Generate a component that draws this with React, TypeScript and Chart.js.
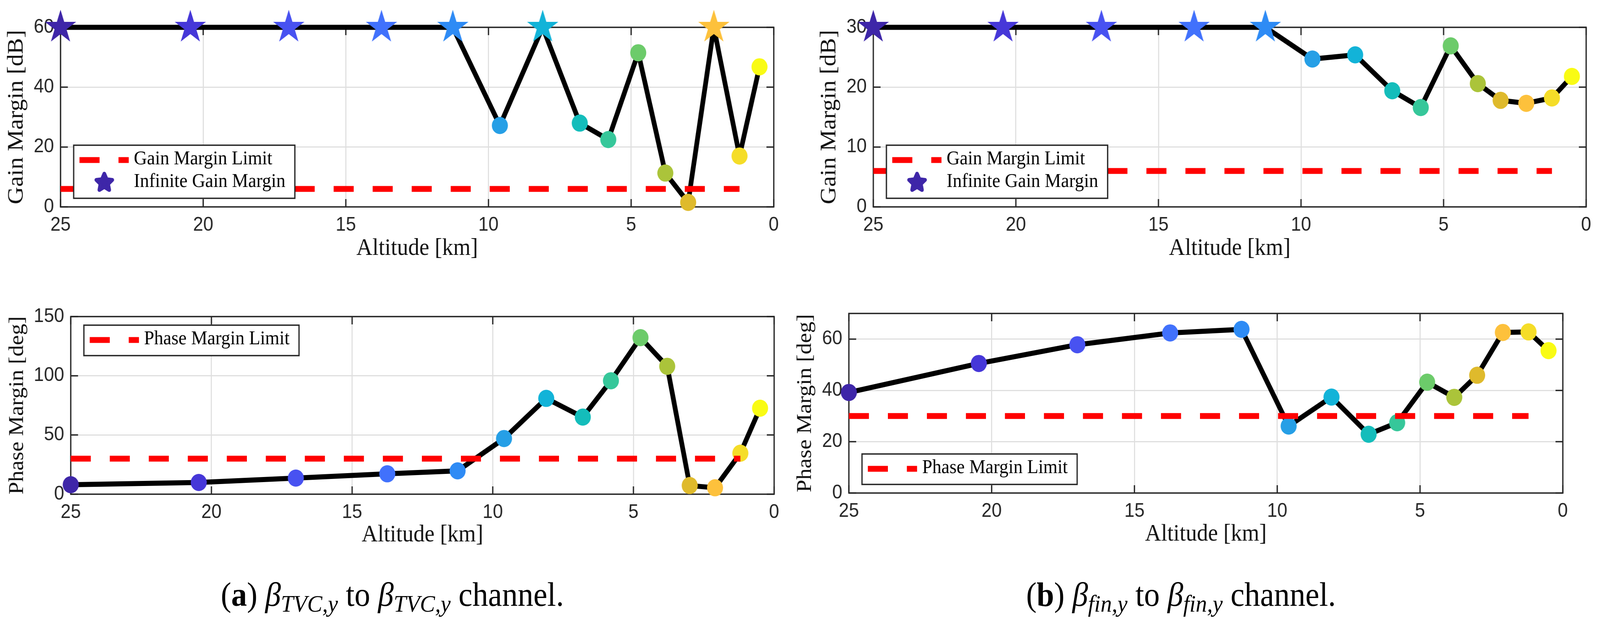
import React, { useEffect, useRef } from 'react';
import { Chart, registerables, Plugin } from 'chart.js';

Chart.register(...registerables);

// altitude of each design point, km
const altitude = [25, 20.45, 17, 13.75, 11.25, 9.6, 8.1, 6.8, 5.8, 4.75, 3.8, 3.0, 2.1, 1.2, 0.5];

// Infinity = infinite gain margin (drawn as a star on the top of the axis)
const gainTvc = [Infinity, Infinity, Infinity, Infinity, Infinity, 27.2, Infinity, 28.0, 22.5, 51.5, 11.3, 1.5, Infinity, 17.0, 46.8];
const gainFin = [Infinity, Infinity, Infinity, Infinity, Infinity, 24.7, 25.4, 19.4, 16.6, 26.9, 20.6, 17.8, 17.3, 18.2, 21.8];
const phaseTvc = [8.0, 9.9, 13.6, 17.2, 19.7, 47.0, 80.9, 65.1, 95.8, 132.2, 108.0, 7.3, 5.4, 34.6, 72.6];
const phaseFin = [39.2, 50.5, 57.8, 62.4, 63.8, 26.1, 37.4, 22.9, 27.4, 43.2, 37.3, 45.9, 62.6, 62.8, 55.5];

const gainLimit = 6;
const phaseLimit = 30;

const altitudeTicks = [0, 5, 10, 15, 20, 25];
const gainTvcTicks = [0, 20, 40, 60];
const gainFinTicks = [0, 10, 20, 30];
const phaseTvcTicks = [0, 50, 100, 150];
const phaseFinTicks = [0, 20, 40, 60];

// parula-like colours, one per altitude
const markerColors = [
  '#3e26a8', '#4637d8', '#4852f1', '#4171fc', '#2e8bf5', '#269fe6', '#12b3d8', '#14bdbb',
  '#36c79a', '#6ccb6a', '#abc43a', '#dfba2c', '#fdc13c', '#f5dd28', '#f9fb14',
];

const gainLegend = [
  { label: 'Gain Margin Limit', kind: 'dash' },
  { label: 'Infinite Gain Margin', kind: 'star' },
];
const phaseLegend = [{ label: 'Phase Margin Limit', kind: 'dash' }];

const AXIS = '#262626';
const PAGE_W = 4388;
const PAGE_H = 1596;

function starPath(g: CanvasRenderingContext2D, cx: number, cy: number, R: number, r: number) {
  g.beginPath();
  for (let i = 0; i < 10; i++) {
    const a = -Math.PI / 2 + (i * Math.PI) / 5;
    const rad = i % 2 ? r : R;
    const x = cx + rad * Math.cos(a);
    const y = cy + rad * Math.sin(a);
    if (i === 0) g.moveTo(x, y);
    else g.lineTo(x, y);
  }
  g.closePath();
}

function makeStar(color: string) {
  const R = 45;
  const c = document.createElement('canvas');
  c.width = 94;
  c.height = 94;
  const g = c.getContext('2d')!;
  starPath(g, 47, 47, R, R * 0.382);
  g.fillStyle = color;
  g.fill();
  return c;
}

interface PanelProps {
  values: number[];
  cap: number;
  yTicks: number[];
  limit: number;
  yTitle: string;
  legend: { label: string; kind: string }[];
  corner: 'nw' | 'sw';
  left: number;
  top: number;
  width: number;
  height: number;
  padTop: number;
  padRight: number;
  yWidth: number;
  xHeight: number;
  yTitleSize: number;
  yTitlePad: number;
  xTitlePad: number;
}

const MarginPanel: React.FC<PanelProps> = (p) => {
  const ref = useRef<HTMLCanvasElement | null>(null);

  useEffect(() => {
    if (!ref.current) return;
    const stars = markerColors.map(makeStar);
    const plotted = p.values.map((v) => (Number.isFinite(v) ? v : p.cap));
    const pts = altitude.map((a, i) => ({ x: a, y: plotted[i] }));
    const limitPts = [
      { x: altitude[0], y: p.limit },
      { x: altitude[altitude.length - 2], y: p.limit },
    ];

    const frame: Plugin = {
      id: 'frame',
      beforeDatasetsDraw(chart) {
        const { ctx, chartArea: a } = chart;
        const sx = chart.scales.x;
        const sy = chart.scales.y;
        ctx.save();
        ctx.strokeStyle = AXIS;
        ctx.lineWidth = 3.5;
        ctx.beginPath();
        sx.ticks.forEach((t) => {
          const px = sx.getPixelForValue(t.value);
          ctx.moveTo(px, a.bottom);
          ctx.lineTo(px, a.bottom - 20);
          ctx.moveTo(px, a.top);
          ctx.lineTo(px, a.top + 20);
        });
        sy.ticks.forEach((t) => {
          const py = sy.getPixelForValue(t.value);
          ctx.moveTo(a.left, py);
          ctx.lineTo(a.left + 20, py);
          ctx.moveTo(a.right, py);
          ctx.lineTo(a.right - 20, py);
        });
        ctx.stroke();
        ctx.strokeRect(a.left, a.top, a.right - a.left, a.bottom - a.top);
        ctx.restore();
      },
    };

    const legend: Plugin = {
      id: 'boxLegend',
      afterDatasetsDraw(chart) {
        const { ctx, chartArea: a } = chart;
        ctx.save();
        ctx.font = '50px "Liberation Serif"';
        const textW = Math.max(...p.legend.map((it) => ctx.measureText(it.label).width));
        const w = 165 + textW + 26;
        const h = 20 + p.legend.length * 58;
        const x = a.left + 36;
        const y = p.corner === 'nw' ? a.top + 22 : a.bottom - 22 - h;
        ctx.fillStyle = '#fff';
        ctx.fillRect(x, y, w, h);
        ctx.strokeStyle = AXIS;
        ctx.lineWidth = 3.5;
        ctx.strokeRect(x, y, w, h);
        p.legend.forEach((it, i) => {
          const cy = y + 38 + i * 58;
          if (it.kind === 'dash') {
            ctx.save();
            ctx.strokeStyle = '#ff0000';
            ctx.lineWidth = 15;
            ctx.setLineDash([55, 52]);
            ctx.beginPath();
            ctx.moveTo(x + 16, cy);
            ctx.lineTo(x + 151, cy);
            ctx.stroke();
            ctx.restore();
          } else {
            ctx.save();
            starPath(ctx, x + 84, cy, 23, 11);
            ctx.fillStyle = markerColors[0];
            ctx.strokeStyle = markerColors[0];
            ctx.lineWidth = 10;
            ctx.lineJoin = 'round';
            ctx.fill();
            ctx.stroke();
            ctx.restore();
          }
          ctx.fillStyle = '#000';
          ctx.textBaseline = 'middle';
          ctx.textAlign = 'left';
          ctx.fillText(it.label, x + 165, cy - 2);
        });
        ctx.restore();
      },
    };

    const tickFont = { family: 'Liberation Sans', size: 50 };
    const grid = { color: '#dfdfdf', lineWidth: 3, drawTicks: false };

    const chart = new Chart(ref.current, {
      type: 'line',
      data: {
        datasets: [
          {
            data: limitPts,
            borderColor: '#ff0000',
            borderWidth: 15,
            borderDash: [55, 52],
            pointRadius: 0,
            order: 1,
            clip: false,
          },
          {
            data: pts,
            showLine: false,
            pointRadius: 22,
            pointBorderWidth: 0,
            pointBackgroundColor: markerColors,
            pointStyle: (c: any) => (Number.isFinite(p.values[c.dataIndex]) ? 'circle' : stars[c.dataIndex]),
            order: 2,
            clip: false,
          },
          {
            data: pts,
            borderColor: '#000',
            borderWidth: 13,
            borderJoinStyle: 'round',
            pointRadius: 0,
            order: 3,
            clip: false,
          },
        ],
      },
      options: {
        responsive: false,
        animation: false,
        events: [],
        layout: { padding: { top: p.padTop, right: p.padRight, left: 0, bottom: 0 } },
        plugins: { legend: { display: false }, tooltip: { enabled: false } },
        scales: {
          x: {
            type: 'linear',
            reverse: true,
            min: 0,
            max: 25,
            afterBuildTicks: (s) => {
              s.ticks = altitudeTicks.map((value) => ({ value }));
            },
            afterFit: (s) => {
              s.height = p.xHeight;
            },
            grid,
            border: { display: false },
            ticks: { font: tickFont, color: AXIS, padding: 17, maxRotation: 0, autoSkip: false },
            title: {
              display: true,
              text: 'Altitude [km]',
              color: '#111',
              font: { family: 'Liberation Serif', size: 61 },
              padding: { top: 0, bottom: p.xTitlePad },
            },
          },
          y: {
            type: 'linear',
            min: 0,
            max: p.cap,
            afterBuildTicks: (s) => {
              s.ticks = p.yTicks.map((value) => ({ value }));
            },
            afterFit: (s) => {
              s.width = p.yWidth;
            },
            grid,
            border: { display: false },
            ticks: { font: tickFont, color: AXIS, padding: 18, autoSkip: false },
            title: {
              display: true,
              text: p.yTitle,
              color: '#111',
              font: { family: 'Liberation Serif', size: p.yTitleSize },
              padding: { top: p.yTitlePad, bottom: 0 },
            },
          },
        },
      },
      plugins: [frame, legend],
    });

    return () => chart.destroy();
  }, [p]);

  return (
    <canvas
      ref={ref}
      width={p.width}
      height={p.height}
      style={{ position: 'absolute', left: p.left, top: p.top, width: p.width, height: p.height }}
    />
  );
};

const Caption: React.FC<{ center: number; tag: string; sub: string }> = ({ center, tag, sub }) => (
  <div
    style={{
      position: 'absolute',
      left: center - 700,
      top: 1480,
      width: 1400,
      textAlign: 'center',
      fontFamily: '"Liberation Serif"',
      fontSize: 86,
      lineHeight: '86px',
      color: '#000',
      whiteSpace: 'nowrap',
    }}
  >
    (<b>{tag}</b>) <i>β</i>
    <i style={{ fontSize: '0.72em', verticalAlign: '-0.25em' }}>{sub}</i> to <i>β</i>
    <i style={{ fontSize: '0.72em', verticalAlign: '-0.25em' }}>{sub}</i> channel.
  </div>
);

const tl: PanelProps = {
  values: gainTvc, cap: 60, yTicks: gainTvcTicks, limit: gainLimit, yTitle: 'Gain Margin [dB]',
  legend: gainLegend, corner: 'sw',
  left: 0, top: 0, width: 2200, height: 700, padTop: 70, padRight: 78, yWidth: 166, xHeight: 170,
  yTitleSize: 62, yTitlePad: 9, xTitlePad: 26,
};
const tr: PanelProps = {
  values: gainFin, cap: 30, yTicks: gainFinTicks, limit: gainLimit, yTitle: 'Gain Margin [dB]',
  legend: gainLegend, corner: 'sw',
  left: 2200, top: 0, width: 2188, height: 700, padTop: 70, padRight: 38, yWidth: 195, xHeight: 170,
  yTitleSize: 62, yTitlePad: 38, xTitlePad: 26,
};
const bl: PanelProps = {
  values: phaseTvc, cap: 150, yTicks: phaseTvcTicks, limit: phaseLimit, yTitle: 'Phase Margin [deg]',
  legend: phaseLegend, corner: 'nw',
  left: 0, top: 700, width: 2200, height: 736, padTop: 111, padRight: 77, yWidth: 194, xHeight: 170,
  yTitleSize: 58, yTitlePad: 13, xTitlePad: 28,
};
const br: PanelProps = {
  values: phaseFin, cap: 70, yTicks: phaseFinTicks, limit: phaseLimit, yTitle: 'Phase Margin [deg]',
  legend: phaseLegend, corner: 'sw',
  left: 2150, top: 700, width: 2238, height: 736, padTop: 103, padRight: 102, yWidth: 178, xHeight: 173,
  yTitleSize: 58, yTitlePad: 24, xTitlePad: 30,
};

export default function App() {
  // the figure is laid out on a 4388x1596 sheet; fit it to whatever viewport we actually get
  const sx = Math.min(1, window.innerWidth / PAGE_W);
  const sy = Math.min(1, window.innerHeight / PAGE_H);
  return (
    <div
      style={{
        position: 'fixed',
        left: 0,
        top: 0,
        width: PAGE_W,
        height: PAGE_H,
        background: '#fff',
        transform: `scale(${sx}, ${sy})`,
        transformOrigin: '0 0',
      }}
    >
      <MarginPanel {...tl} />
      <MarginPanel {...tr} />
      <MarginPanel {...bl} />
      <MarginPanel {...br} />
      <Caption center={1076} tag="a" sub="TVC,y" />
      <Caption center={3239} tag="b" sub="fin,y" />
    </div>
  );
}
